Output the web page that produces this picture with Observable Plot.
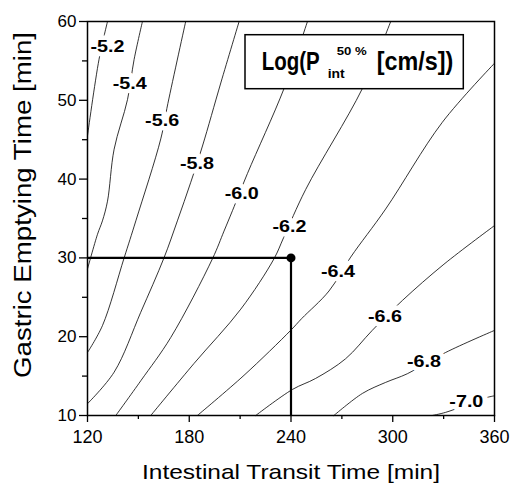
<!DOCTYPE html>
<html>
<head>
<meta charset="utf-8">
<script src="https://cdn.jsdelivr.net/npm/d3@7"></script>
<script src="https://cdn.jsdelivr.net/npm/@observablehq/plot@0.6"></script>
<style>
  body { margin: 0; background: #fff; }
  #chart { width: 512px; height: 487px; }
</style>
</head>
<body>
<div id="chart"></div>
<script>
// ---- axes ----
const xDomain = [120, 360];
const yDomain = [10, 60];
const xTicks = [120, 180, 240, 300, 360];
const xMinorTicks = [150, 210, 270, 330];
const yTicks = [10, 20, 30, 40, 50, 60];
const yMinorTicks = [15, 25, 35, 45, 55];
const xLabel = "Intestinal Transit Time [min]";
const yLabel = "Gastric Emptying Time [min]";

// ---- contour levels and their traced paths [intestinal transit, gastric emptying] ----
const levels = ["-5.2", "-5.4", "-5.6", "-5.8", "-6.0", "-6.2", "-6.4", "-6.6", "-6.8", "-7.0"];
const contour52 = [[131.8, 60], [126.8, 55.2], [120, 45.5]];
const contour54 = [[152.4, 60], [147.5, 55.2], [143.6, 50.1], [135.7, 43.8], [131.8, 37.2], [128.8, 34.7], [125.9, 33.0], [120, 28.6]];
const contour56 = [[177.9, 60], [167.4, 49.6], [163.2, 45.1], [148.5, 34.7], [141.6, 30.0], [128.8, 21.4], [120, 18.0]];
const contour58 = [[209.4, 60], [198.6, 52.2], [187.8, 44.2], [180.9, 39.6], [173.0, 34.7], [165.1, 30.0], [151.4, 23.1], [135.7, 15.5], [120, 11.5]];
const contour60 = [[249.7, 60], [235.9, 51.5], [214.3, 40.7], [205.5, 36.0], [200.5, 33.4], [193.7, 29.9], [169.1, 19.9], [151.4, 14.4], [136.7, 10]];
const contour62 = [[298.8, 60], [282.1, 51.5], [248.7, 38.7], [235.7, 32.6], [230.0, 29.9], [210.4, 23.5], [182.8, 16.6], [157.3, 10]];
const contour64 = [[360, 54.7], [329.2, 47.2], [295.8, 36.2], [275.2, 30.1], [262.4, 25.8], [246.3, 22.3], [239.8, 20.8], [212.3, 15.1], [184.8, 10]];
const contour66 = [[360, 34.1], [330.2, 29.2], [305.7, 24.6], [287.9, 20.8], [272.2, 17.2], [254.5, 14.7], [240.8, 13.3], [219.2, 10]];
const contour68 = [[360, 20.8], [331.2, 18.0], [308.6, 15.3], [295.8, 14.2], [282.1, 12.8], [265.3, 10]];
const contour70 = [[360, 12.5], [355.8, 12.3], [331.2, 10.4], [323.3, 10]];
const contours = [contour52, contour54, contour56, contour58, contour60, contour62, contour64, contour66, contour68, contour70];

// label anchor positions for each level
const labelX = [131.8, 144.9, 164.0, 184.6, 210.9, 239.1, 267.7, 295.4, 318.4, 343.4];
const labelY = [56.8, 52.1, 47.4, 41.9, 38.1, 33.9, 28.2, 22.5, 16.8, 11.7];

// highlighted reference point
const refX = [240];
const refY = [30];

// legend title pieces
const legendMain = "Log(P";
const legendSub = "int";
const legendSup = "50 %";
const legendUnit = "[cm/s])";

// ---- build tables ----
const lineRows = contours.flatMap((pts, i) => pts.map(([x, y]) => ({level: levels[i], x, y})));
const labelRows = levels.map((l, i) => ({level: l, x: labelX[i], y: labelY[i]}));
const refRows = refX.map((x, i) => ({x, y: refY[i]}));

const plot = Plot.plot({
  width: 512,
  height: 487,
  marginLeft: 87,
  marginRight: 18,
  marginTop: 21,
  marginBottom: 72,
  style: {fontFamily: "'Liberation Sans', Arial, sans-serif", background: "white", color: "black"},
  x: {domain: xDomain},
  y: {domain: yDomain},
  marks: [
    Plot.line(lineRows, {x: "x", y: "y", z: "level", stroke: "black", strokeWidth: 0.8, curve: "catmull-rom"}),
    Plot.text(labelRows, {x: "x", y: "y", text: "level", fontSize: 16.5, fontWeight: "bold", fill: "black",
      stroke: "white", strokeWidth: 9, className: "clabels"}),
    Plot.ruleY(refRows, {y: "y", x1: xDomain[0], x2: "x", stroke: "black", strokeWidth: 2.2}),
    Plot.ruleX(refRows, {x: "x", y1: yDomain[0], y2: "y", stroke: "black", strokeWidth: 2.2}),
    Plot.dot(refRows, {x: "x", y: "y", r: 4.5, fill: "black"}),
    Plot.frame({stroke: "black", strokeWidth: 1.5}),
    Plot.axisX({ticks: xTicks, tickSize: 7, tickPadding: 8, fontSize: 18, label: null, strokeWidth: 1.3}),
    Plot.axisX({ticks: xMinorTicks, tickSize: 4, text: null, label: null, strokeWidth: 1.3}),
    Plot.axisY({ticks: yTicks, tickSize: 8, tickPadding: 3, fontSize: 17, label: null, strokeWidth: 1.3}),
    Plot.axisY({ticks: yMinorTicks, tickSize: 5, text: null, label: null, strokeWidth: 1.3}),
    Plot.text([xLabel], {frameAnchor: "bottom", dy: 63, fontSize: 21, fill: "black", className: "xlab"})
  ]
});

document.getElementById("chart").appendChild(plot);

const svg = d3.select(plot);
svg.selectAll(".xlab text").attr("textLength", 298).attr("lengthAdjust", "spacingAndGlyphs");
svg.selectAll(".clabels text").attr("textLength", 34).attr("lengthAdjust", "spacingAndGlyphs");

// y axis title (rotated), laid out in pixels
svg.append("text")
  .attr("transform", "translate(31,205) rotate(-90)")
  .attr("x", -173).attr("y", 0)
  .attr("text-anchor", "start")
  .attr("font-family", "'Liberation Sans', Arial, sans-serif")
  .attr("font-size", 23).attr("fill", "black")
  .attr("textLength", 346).attr("lengthAdjust", "spacingAndGlyphs")
  .text(yLabel);

// legend box (layout in pixels)
const g = svg.append("g").attr("font-family", "'Liberation Sans', Arial, sans-serif")
  .attr("font-weight", "bold").attr("fill", "black").attr("text-anchor", "start");
g.append("rect").attr("x", 245).attr("y", 34.7).attr("width", 218.3).attr("height", 54)
  .attr("fill", "white").attr("stroke", "black").attr("stroke-width", 1.5);
const t = g.append("text").attr("x", 261.7).attr("y", 69.7).attr("font-size", 25);
t.append("tspan").attr("x", 261.7).attr("y", 69.7)
  .attr("textLength", 58).attr("lengthAdjust", "spacingAndGlyphs").text(legendMain);
t.append("tspan").attr("x", 327.7).attr("y", 78).attr("font-size", 13)
  .attr("textLength", 17).attr("lengthAdjust", "spacingAndGlyphs").text(legendSub);
t.append("tspan").attr("x", 336.7).attr("y", 54.7).attr("font-size", 11.5)
  .attr("textLength", 30).attr("lengthAdjust", "spacingAndGlyphs").text(legendSup);
t.append("tspan").attr("x", 376.7).attr("y", 69.7)
  .attr("textLength", 76.6).attr("lengthAdjust", "spacingAndGlyphs").text(" " === "" ? "" : legendUnit);
</script>
</body>
</html>
